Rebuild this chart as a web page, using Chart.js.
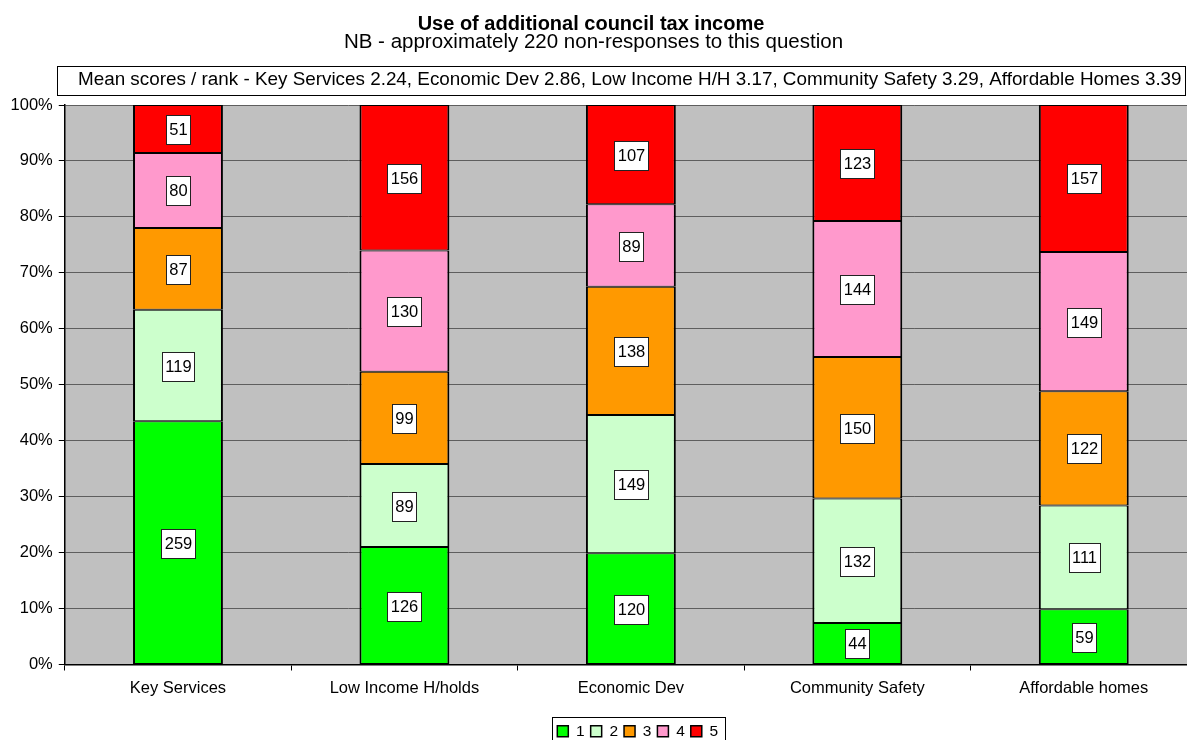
<!DOCTYPE html>
<html>
<head>
<meta charset="utf-8">
<script src="https://cdn.jsdelivr.net/npm/chart.js@4.4.1/dist/chart.umd.min.js"></script>
<style>
html,body{margin:0;padding:0;background:#fff;overflow:hidden;width:1187px;height:740px}
#wrap{width:1197px;height:740px}
</style>
</head>
<body>
<div id="wrap"><canvas id="c" width="1197" height="740"></canvas></div>
<script>
// ---- data ----
const titleText = 'Use of additional council tax income';
const subtitleText = 'NB - approximately 220 non-responses to this question';
const noteText = 'Mean scores / rank - Key Services 2.24, Economic Dev 2.86, Low Income H/H 3.17, Community Safety 3.29, Affordable Homes 3.39';
const categories = ['Key Services', 'Low Income H/holds', 'Economic Dev', 'Community Safety', 'Affordable homes'];
const rankNames = ['1', '2', '3', '4', '5'];
const rank1 = [259, 126, 120, 44, 59];
const rank2 = [119, 89, 149, 132, 111];
const rank3 = [87, 99, 138, 150, 122];
const rank4 = [80, 130, 89, 144, 149];
const rank5 = [51, 156, 107, 123, 157];
const rankColors = ['#00FF00', '#CCFFCC', '#FF9900', '#FF99CC', '#FF0000'];

const FONT = "'Liberation Sans', Arial, sans-serif";
Chart.defaults.font.family = FONT;
Chart.defaults.color = '#000';

const counts = [rank1, rank2, rank3, rank4, rank5];
const totals = categories.map((_, j) => counts.reduce((s, arr) => s + arr[j], 0));

const datasets = counts.map((arr, i) => ({
  label: rankNames[i],
  data: arr.map((v, j) => v / totals[j] * 100),
  counts: arr,
  backgroundColor: rankColors[i],
  borderColor: '#000',
  borderWidth: { top: 1, bottom: 1, left: 2, right: 2 },
  borderSkipped: false,
  barPercentage: 0.397,
  categoryPercentage: 1.0
}));

const decorPlugin = {
  id: 'decor',
  beforeDraw(chart) {
    const {ctx, chartArea: a} = chart;
    ctx.save();
    ctx.fillStyle = '#C0C0C0';
    ctx.fillRect(a.left, a.top, a.right - a.left, a.bottom - a.top);
    ctx.restore();
  },
  afterLayout(chart) {
    const lg = chart.legend;
    if (!lg || !lg.lineWidths) return;
    const pad = lg.options.labels.padding;
    const curX = (lg.left + pad + lg.right - lg.lineWidths[0]) / 2;
    const dx = 557.3 - curX;
    lg.left += dx; lg.right += dx;
    const dy = 717.5 - lg.top;
    lg.top += dy; lg.bottom += dy;
  },
  afterDatasetsDraw(chart) {
    const {ctx} = chart;
    ctx.save();
    ctx.font = '16.5px ' + FONT;
    ctx.textAlign = 'center';
    ctx.textBaseline = 'middle';
    chart.data.datasets.forEach((ds, i) => {
      const meta = chart.getDatasetMeta(i);
      meta.data.forEach((el, j) => {
        const txt = String(ds.counts[j]);
        const cx = Math.round(el.x);
        const cy = Math.round((el.y + el.base) / 2);
        const w = Math.round(ctx.measureText(txt).width + 6);
        const h = 29;
        const x0 = Math.round(cx - w / 2) + 0.5;
        const y0 = Math.round(cy - h / 2) + 0.5;
        ctx.fillStyle = '#fff';
        ctx.fillRect(x0, y0, w, h);
        ctx.strokeStyle = '#222';
        ctx.lineWidth = 1;
        ctx.strokeRect(x0, y0, w, h);
        ctx.fillStyle = '#000';
        ctx.fillText(txt, cx + 0.5, cy + 1.5);
      });
    });
    ctx.restore();
  },
  afterDraw(chart) {
    const {ctx} = chart;
    ctx.save();
    ctx.fillStyle = '#000';
    ctx.textAlign = 'center';
    ctx.textBaseline = 'middle';
    ctx.font = 'bold 20px ' + FONT;
    ctx.fillText(titleText, 591, 24);
    ctx.font = '20.5px ' + FONT;
    ctx.fillText(subtitleText, 593.5, 42);
    // note box
    ctx.fillStyle = '#fff';
    ctx.fillRect(57.5, 66.5, 1128, 29);
    ctx.strokeStyle = '#000';
    ctx.lineWidth = 1;
    ctx.strokeRect(57.5, 66.5, 1128, 29);
    ctx.fillStyle = '#000';
    ctx.textAlign = 'left';
    ctx.font = '20px ' + FONT;
    const w20 = ctx.measureText(noteText).width;
    const noteSize = 20 * 1104 / w20;
    ctx.font = noteSize.toFixed(2) + 'px ' + FONT;
    ctx.fillText(noteText, 78, 80);
    // legend frame
    const lg = chart.legend;
    if (lg && lg.legendHitBoxes && lg.legendHitBoxes.length) {
      const hb = lg.legendHitBoxes;
      const l = Math.round(hb[0].left - 5) + 0.5;
      const last = hb[hb.length - 1];
      const r = Math.round(last.left + last.width + 7) + 0.5;
      ctx.strokeStyle = '#000';
      ctx.strokeRect(l, 717.5, r - l, 30);
    }
    ctx.restore();
  }
};

new Chart(document.getElementById('c'), {
  type: 'bar',
  data: { labels: categories, datasets },
  plugins: [decorPlugin],
  options: {
    responsive: false,
    animation: false,
    layout: { padding: { top: 105, left: 0, right: 0, bottom: 0 } },
    plugins: {
      title: { display: false },
      tooltip: { enabled: false },
      legend: {
        display: true,
        position: 'bottom',
        labels: { boxWidth: 11, boxHeight: 11, padding: 6, font: { size: 15.5, family: FONT }, color: '#000' }
      }
    },
    scales: {
      x: {
        stacked: true,
        grid: { offset: true, drawOnChartArea: false, tickLength: 6, tickColor: '#000', lineWidth: 1 },
        border: { color: '#000', width: 1.5 },
        ticks: { font: { size: 16.5, family: FONT }, color: '#000', padding: 8, maxRotation: 0 },
        afterFit(s) { s.height = 44; }
      },
      y: {
        stacked: true,
        min: 0,
        max: 100,
        ticks: { stepSize: 10, callback: v => v + '%', font: { size: 16.5, family: FONT }, color: '#000', padding: 6 },
        grid: { color: '#5e5e5e', tickColor: '#000', tickLength: 6, lineWidth: 1 },
        border: { color: '#000', width: 1.5 },
        afterFit(s) { s.width = 64.75; }
      }
    }
  }
});
</script>
</body>
</html>
